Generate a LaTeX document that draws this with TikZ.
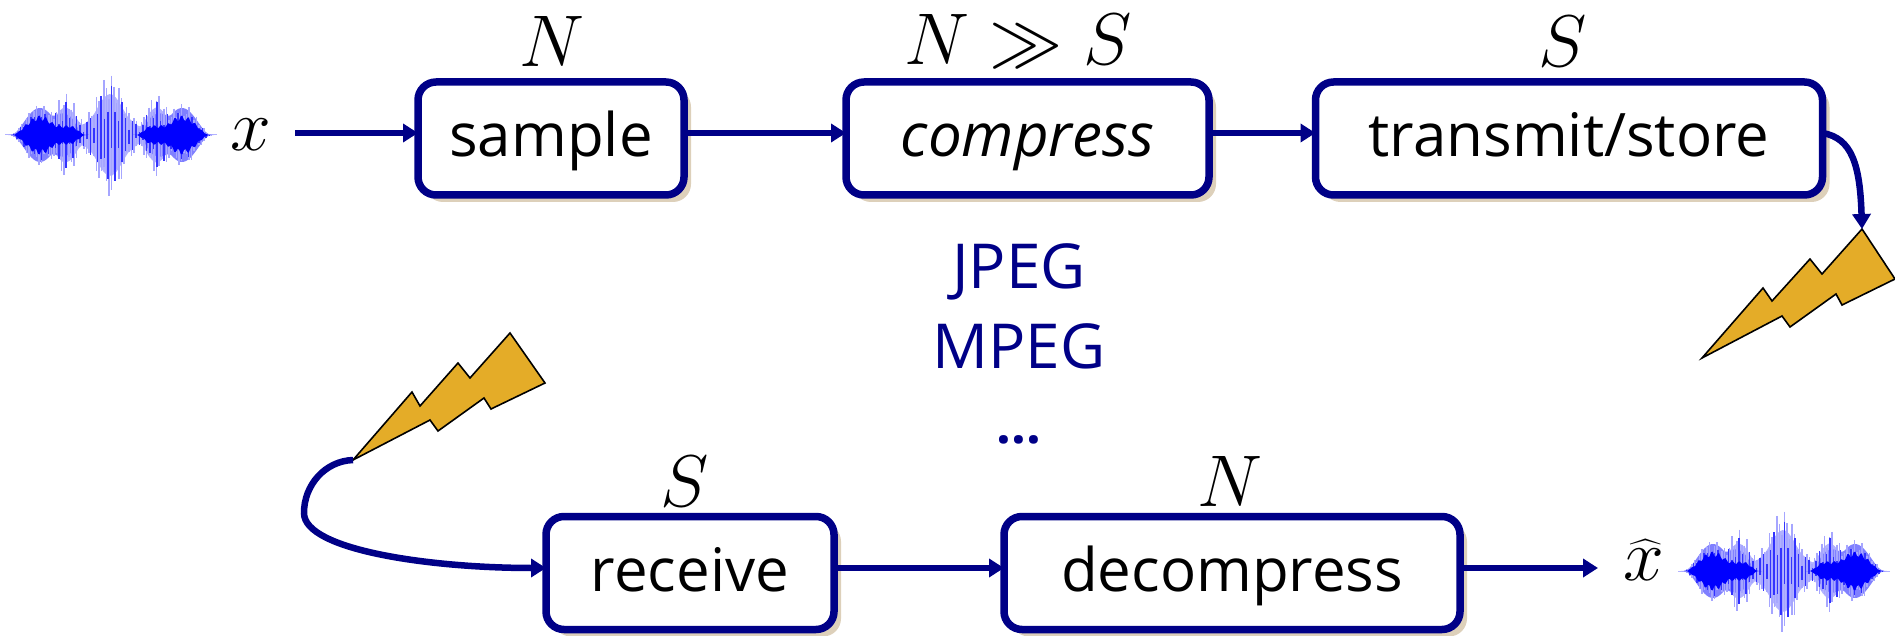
\documentclass[tikz,border=0pt]{standalone}
\usepackage{fix-cm}
\usepackage{fontspec}
\setmainfont{Open Sans}
\usetikzlibrary{arrows.meta,shadows,calc}
\definecolor{navyline}{RGB}{0,0,135}
\definecolor{shadowtan}{RGB}{221,208,186}
\definecolor{boltfill}{RGB}{228,172,40}
\newcommand{\bigtext}{\fontsize{60}{66}\selectfont}
\newcommand{\codectext}{\fontsize{62}{66}\selectfont}
\newcommand{\dottext}{\fontsize{52}{60}\selectfont}
\newcommand{\mathtext}{\fontsize{24}{28}\selectfont}
\tikzset{
  x=1pt,y=-1pt,
  proc/.style={draw=navyline,line width=7.5pt,fill=white,rounded corners=18pt,outer sep=0pt,
    inner sep=0pt,text=black,font=\bigtext,minimum height=113pt,text height=50pt,text depth=13pt,
    drop shadow={shadow xshift=7pt,shadow yshift=-7pt,fill=shadowtan,opacity=1}},
  flow/.style={draw=navyline,line width=6.5pt,-{Triangle[length=15pt,width=18pt]}},
  size/.style={font=\mathtext,inner sep=0pt,text=black,scale=3.05},
  codec/.style={font=\codectext,text=navyline,inner sep=0pt},
  dotrow/.style={font=\dottext,text=navyline,inner sep=0pt},
  bolt/.style={draw=black,line width=1.6pt,fill=boltfill,line join=miter},
  declare function={
    clipd(\d)=min(abs(\d),1);
    bump(\d)=(1-clipd(\d)*clipd(\d))*(1-clipd(\d)*clipd(\d));
    envl(\u)=31*bump((\u-35)/30)+40*bump((\u-62)/17)+38*bump((\u-105)/44)+24*bump((\u-105)/20)
            +40*bump((\u-150)/17)+31*bump((\u-177)/30);
    midl(\u)=27*bump((\u-35)/29)+20*bump((\u-62)/17)+20*bump((\u-150)/17)+27*bump((\u-177)/29);
    core(\u)=(20*bump((\u-35)/28)+10*bump((\u-64)/17)+10*bump((\u-148)/17)+20*bump((\u-177)/28))*(0.85+0.15*cos(\u*53));
  }
}
\newcommand{\soundwave}[2]{%
  \begin{scope}[shift={(#1,#2)}]
    \draw[blue!30,line width=1pt] (0,0) -- (212,0);
    \fill[blue!30] plot[domain=0:212,samples=70] (\x,{-0.66*envl(\x)}) -- plot[domain=212:0,samples=70] (\x,{0.66*envl(\x)}) -- cycle;
    \fill[blue!50] plot[domain=4:82,samples=50] (\x,{-midl(\x)}) -- plot[domain=82:4,samples=50] (\x,{midl(\x)}) -- cycle;
    \fill[blue!50] plot[domain=130:208,samples=50] (\x,{-midl(\x)}) -- plot[domain=208:130,samples=50] (\x,{midl(\x)}) -- cycle;
    \foreach \u in {4,6.5,...,210}{
      \draw[blue!35,line width=1.2pt] (\u,{-envl(\u)*(0.78+0.22*cos(\u*47))}) -- (\u,{envl(\u)*(0.78+0.22*cos(\u*31))});
    }
    \foreach \u in {5,8.5,...,210}{
      \draw[blue!80,line width=1.3pt] (\u,{-envl(\u)*(0.5+0.3*cos(\u*71))}) -- (\u,{envl(\u)*(0.5+0.3*cos(\u*59))});
    }
    \fill[blue] plot[domain=6:84,samples=50] (\x,{-core(\x)}) -- plot[domain=84:6,samples=50] (\x,{core(\x)}) -- cycle;
    \fill[blue] plot[domain=128:206,samples=50] (\x,{-core(\x)}) -- plot[domain=206:128,samples=50] (\x,{core(\x)}) -- cycle;
  \end{scope}}
\begin{document}
\begin{tikzpicture}
\useasboundingbox (0,0) rectangle (1895,636);
\soundwave{5}{135}
\soundwave{1678}{571}
\node[size] (xin) at (251,135) {$x$};
\node[size] (xout) at (1644,560) {$\widehat{x}$};
\node[proc,minimum width=266pt] (sample) at (551,138.5) {sample};
\node[proc,minimum width=363pt] (compress) at (1027.5,138.5) {\itshape compress};
\node[proc,minimum width=507pt] (transmit) at (1569,138.5) {transmit/store};
\node[proc,minimum width=288pt] (receive) at (690,573) {receive};
\node[proc,minimum width=456pt] (decompress) at (1232,573) {decompress};
\node[size] (n1) at (552,41) {$N$};
\node[size] (n2) at (1018,41) {$N\gg S$};
\node[size] (s1) at (1563,41) {$S$};
\node[size] (s2) at (685,481) {$S$};
\node[size] (n3) at (1230,481) {$N$};
\node[codec] (jpeg) at (1019,272) {JPEG};
\node[codec] (mpeg) at (1019,346) {MPEG};
\node[dotrow] (dots) at (1019,440) {\textbf{...}};
\draw[bolt] (1862,229) coordinate (tipa) -- (1895,279) -- (1842,305) -- (1836,294) -- (1790,327) -- (1782,316) -- (1702,358) -- (1763,288) -- (1772,301) -- (1810,259) -- (1822,274) -- cycle;
\draw[bolt] (510,333) -- (545,383) -- (491,409) -- (484,398) -- (438,431) -- (430,420) -- (353,460) coordinate (tailb) -- (412,392) -- (420,406) -- (458,363) -- (470,378) -- cycle;
\coordinate (xstart) at (295,133);
\coordinate (xend) at (1598,568);
\draw[flow] (xstart) -- ([yshift=5.5pt]sample.west);
\draw[flow] ([yshift=5.5pt]sample.east) -- ([yshift=5.5pt]compress.west);
\draw[flow] ([yshift=5.5pt]compress.east) -- ([yshift=5.5pt]transmit.west);
\draw[flow] ([yshift=5.5pt]transmit.east) .. controls (1852,138) and (1860,165) .. (tipa);
\draw[flow] (tailb) .. controls (325,461) and (304,485) .. (304,513) .. controls (304,550) and (430,568) .. ([yshift=5pt]receive.west);
\draw[flow] ([yshift=5pt]receive.east) -- ([yshift=5pt]decompress.west);
\draw[flow] ([yshift=5pt]decompress.east) -- (xend);
\end{tikzpicture}
\end{document}
